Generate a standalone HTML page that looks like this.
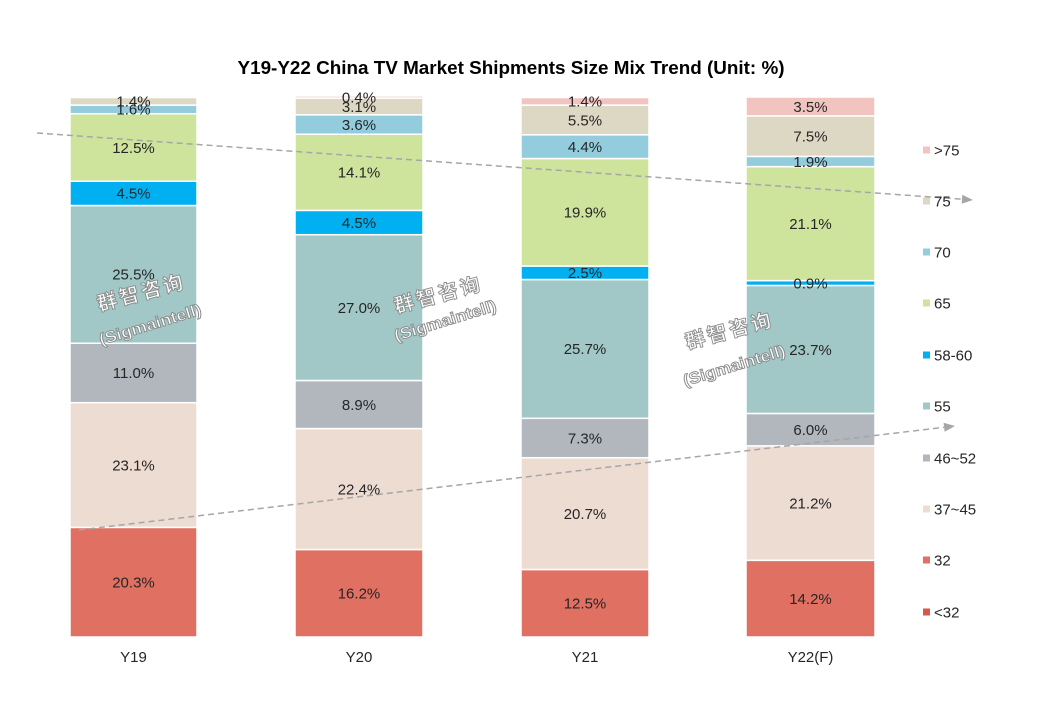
<!DOCTYPE html>
<html>
<head>
<meta charset="utf-8">
<style>
html,body{margin:0;padding:0;background:#fff;}
svg{display:block;}
text{font-family:"Liberation Sans","Noto Sans CJK SC",Arial,sans-serif;}
.lb{font-size:15px;fill:#262626;text-anchor:middle;}
.ax{font-size:15px;fill:#262626;text-anchor:middle;}
.lg{font-size:15px;fill:#262626;}
.wm{font-weight:bold;fill:#fff;stroke:#8a8a8a;stroke-width:0.9;text-anchor:middle;}
</style>
</head>
<body>
<svg width="1043" height="707" viewBox="0 0 1043 707" xmlns="http://www.w3.org/2000/svg">
<rect width="1043" height="707" fill="#fff"/>
<text x="511" y="74" text-anchor="middle" font-size="18" font-weight="bold" fill="#000" textLength="547" lengthAdjust="spacingAndGlyphs">Y19-Y22 China TV Market Shipments Size Mix Trend (Unit: %)</text>

<g stroke="#fff" stroke-width="1.5">
<!-- Y19 -->
<rect x="70" y="527.38" width="127" height="109.62" fill="#E07062"/>
<rect x="70" y="402.64" width="127" height="124.74" fill="#EDDCD2"/>
<rect x="70" y="343.24" width="127" height="59.4" fill="#B1B7BD"/>
<rect x="70" y="205.54" width="127" height="137.7" fill="#A1C8C6"/>
<rect x="70" y="181.24" width="127" height="24.3" fill="#00B0F0"/>
<rect x="70" y="113.74" width="127" height="67.5" fill="#CEE49D"/>
<rect x="70" y="105.1" width="127" height="8.64" fill="#93CDDD"/>
<rect x="70" y="97.54" width="127" height="7.56" fill="#DDD8C3"/>
<!-- Y20 -->
<rect x="295" y="549.52" width="128" height="87.48" fill="#E07062"/>
<rect x="295" y="428.56" width="128" height="120.96" fill="#EDDCD2"/>
<rect x="295" y="380.5" width="128" height="48.06" fill="#B1B7BD"/>
<rect x="295" y="234.7" width="128" height="145.8" fill="#A1C8C6"/>
<rect x="295" y="210.4" width="128" height="24.3" fill="#00B0F0"/>
<rect x="295" y="134.26" width="128" height="76.14" fill="#CEE49D"/>
<rect x="295" y="114.82" width="128" height="19.44" fill="#93CDDD"/>
<rect x="295" y="98.08" width="128" height="16.74" fill="#DDD8C3"/>
<rect x="295" y="95.92" width="128" height="2.16" fill="#F2C4C0"/>
<!-- Y21 -->
<rect x="521" y="569.5" width="128" height="67.5" fill="#E07062"/>
<rect x="521" y="457.72" width="128" height="111.78" fill="#EDDCD2"/>
<rect x="521" y="418.3" width="128" height="39.42" fill="#B1B7BD"/>
<rect x="521" y="279.52" width="128" height="138.78" fill="#A1C8C6"/>
<rect x="521" y="266.02" width="128" height="13.5" fill="#00B0F0"/>
<rect x="521" y="158.56" width="128" height="107.46" fill="#CEE49D"/>
<rect x="521" y="134.8" width="128" height="23.76" fill="#93CDDD"/>
<rect x="521" y="105.1" width="128" height="29.7" fill="#DDD8C3"/>
<rect x="521" y="97.54" width="128" height="7.56" fill="#F2C4C0"/>
<!-- Y22 -->
<rect x="746" y="560.32" width="129" height="76.68" fill="#E07062"/>
<rect x="746" y="445.84" width="129" height="114.48" fill="#EDDCD2"/>
<rect x="746" y="413.44" width="129" height="32.4" fill="#B1B7BD"/>
<rect x="746" y="285.46" width="129" height="127.98" fill="#A1C8C6"/>
<rect x="746" y="280.6" width="129" height="4.86" fill="#00B0F0"/>
<rect x="746" y="166.66" width="129" height="113.94" fill="#CEE49D"/>
<rect x="746" y="156.4" width="129" height="10.26" fill="#93CDDD"/>
<rect x="746" y="115.9" width="129" height="40.5" fill="#DDD8C3"/>
<rect x="746" y="97.0" width="129" height="18.9" fill="#F2C4C0"/>
</g>

<!-- dashed trend arrows -->
<g stroke="#a6a6a6" stroke-width="1.5" stroke-dasharray="6,4" fill="none">
<line x1="37" y1="133" x2="962" y2="199.2"/>
<line x1="79" y1="530" x2="944" y2="427.3"/>
</g>
<polygon points="973,200 962.3,194.7 961.7,203.7" fill="#a6a6a6"/>
<polygon points="955,426 944.6,431.8 943.6,422.8" fill="#a6a6a6"/>

<!-- watermarks -->
<g class="wm">
<text x="140" y="300" font-size="20" transform="rotate(-15 140 293)" textLength="88" lengthAdjust="spacing">群智咨询</text>
<text x="150" y="330" font-size="16" transform="rotate(-17 150 324)" textLength="106" lengthAdjust="spacingAndGlyphs">(Sigmaintell)</text>
<text x="437" y="302" font-size="20" transform="rotate(-15 437 295)" textLength="88" lengthAdjust="spacing">群智咨询</text>
<text x="445" y="326" font-size="16" transform="rotate(-17 445 320)" textLength="106" lengthAdjust="spacingAndGlyphs">(Sigmaintell)</text>
<text x="728" y="338" font-size="20" transform="rotate(-15 728 331)" textLength="88" lengthAdjust="spacing">群智咨询</text>
<text x="734" y="371" font-size="16" transform="rotate(-17 734 365)" textLength="106" lengthAdjust="spacingAndGlyphs">(Sigmaintell)</text>
</g>

<!-- data labels -->
<g class="lb">
<text x="133.5" y="587.5">20.3%</text>
<text x="133.5" y="470.3">23.1%</text>
<text x="133.5" y="378.2">11.0%</text>
<text x="133.5" y="279.7">25.5%</text>
<text x="133.5" y="198.7">4.5%</text>
<text x="133.5" y="152.8">12.5%</text>
<text x="133.5" y="114.7">1.6%</text>
<text x="133.5" y="106.6">1.4%</text>

<text x="359" y="598.6">16.2%</text>
<text x="359" y="494.3">22.4%</text>
<text x="359" y="409.8">8.9%</text>
<text x="359" y="312.9">27.0%</text>
<text x="359" y="227.9">4.5%</text>
<text x="359" y="177.6">14.1%</text>
<text x="359" y="129.8">3.6%</text>
<text x="359" y="111.8">3.1%</text>
<text x="359" y="102.3">0.4%</text>

<text x="585" y="608.6">12.5%</text>
<text x="585" y="518.9">20.7%</text>
<text x="585" y="443.3">7.3%</text>
<text x="585" y="354.2">25.7%</text>
<text x="585" y="278.1">2.5%</text>
<text x="585" y="217.6">19.9%</text>
<text x="585" y="152.0">4.4%</text>
<text x="585" y="125.3">5.5%</text>
<text x="585" y="106.6">1.4%</text>

<text x="810.5" y="604.0">14.2%</text>
<text x="810.5" y="508.4">21.2%</text>
<text x="810.5" y="434.9">6.0%</text>
<text x="810.5" y="354.8">23.7%</text>
<text x="810.5" y="288.3">0.9%</text>
<text x="810.5" y="228.9">21.1%</text>
<text x="810.5" y="166.8">1.9%</text>
<text x="810.5" y="141.5">7.5%</text>
<text x="810.5" y="111.8">3.5%</text>
</g>

<!-- axis labels -->
<g class="ax">
<text x="133.5" y="662">Y19</text>
<text x="359" y="662">Y20</text>
<text x="585" y="662">Y21</text>
<text x="810.5" y="662">Y22(F)</text>
</g>

<!-- legend -->
<g>
<rect x="923" y="146.5" width="7" height="7" fill="#F2C4C0"/>
<text class="lg" x="934" y="155.5">&gt;75</text>
<rect x="923" y="197.5" width="7" height="7" fill="#DDD8C3"/>
<text class="lg" x="934" y="206.5">75</text>
<rect x="923" y="248.5" width="7" height="7" fill="#93CDDD"/>
<text class="lg" x="934" y="257.5">70</text>
<rect x="923" y="299.5" width="7" height="7" fill="#CEE49D"/>
<text class="lg" x="934" y="308.5">65</text>
<rect x="923" y="351.5" width="7" height="7" fill="#00B0F0"/>
<text class="lg" x="934" y="360.5">58-60</text>
<rect x="923" y="402.5" width="7" height="7" fill="#A1C8C6"/>
<text class="lg" x="934" y="411.5">55</text>
<rect x="923" y="454.5" width="7" height="7" fill="#B1B7BD"/>
<text class="lg" x="934" y="463.5">46~52</text>
<rect x="923" y="505.5" width="7" height="7" fill="#EDDCD2"/>
<text class="lg" x="934" y="514.5">37~45</text>
<rect x="923" y="556.5" width="7" height="7" fill="#E07062"/>
<text class="lg" x="934" y="565.5">32</text>
<rect x="923" y="608.5" width="7" height="7" fill="#D9574A"/>
<text class="lg" x="934" y="617.5">&lt;32</text>
</g>
</svg>
</body>
</html>
